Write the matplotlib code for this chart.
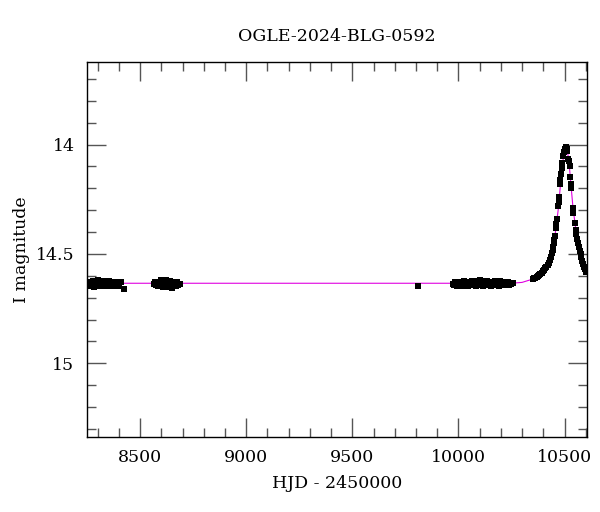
"""Light curve of OGLE-2024-BLG-0592."""

import matplotlib
matplotlib.use("Agg")
import matplotlib.pyplot as plt
from matplotlib.ticker import MultipleLocator

# observations, season by season (HJD - 2450000, I mag)
hjd_s1 = [8256, 8260, 8264, 8268, 8272, 8276, 8280, 8284, 8288, 8292, 8296, 8300,
          8304, 8308, 8312, 8316, 8320, 8324, 8328, 8332, 8336, 8340, 8344, 8348,
          8352, 8356, 8360, 8364, 8368, 8372, 8378, 8384, 8390, 8396, 8402, 8408, 8425]
mag_s1 = [14.640, 14.626, 14.648, 14.630, 14.644, 14.624, 14.638, 14.650, 14.628, 14.642,
          14.634, 14.620, 14.648, 14.630, 14.642, 14.626, 14.648, 14.636, 14.622, 14.644,
          14.630, 14.648, 14.626, 14.640, 14.623, 14.646, 14.630, 14.642, 14.626, 14.648,
          14.636, 14.626, 14.644, 14.632, 14.648, 14.630, 14.662]

hjd_s2 = [8567, 8571, 8575, 8580, 8585, 8590, 8595, 8600, 8605, 8610, 8615, 8620,
          8625, 8630, 8635, 8640, 8645, 8650, 8655, 8660, 8665, 8670, 8675, 8680,
          8686, 8598, 8628, 8652, 8642, 8612]
mag_s2 = [14.636, 14.626, 14.644, 14.630, 14.648, 14.628, 14.642, 14.622, 14.638, 14.650,
          14.630, 14.620, 14.644, 14.652, 14.628, 14.646, 14.632, 14.648, 14.626, 14.644,
          14.634, 14.648, 14.628, 14.642, 14.636, 14.618, 14.650, 14.656, 14.622, 14.652]

hjd_s3 = [9808]
mag_s3 = [14.645]

hjd_s4 = [9975, 9980, 9986, 9992, 9998, 10004, 10010, 10016, 10022, 10028, 10034, 10040,
          10046, 10052, 10058, 10064, 10070, 10076, 10082, 10088, 10094, 10100, 10106,
          10112, 10118, 10124, 10130, 10136, 10142, 10148, 10154, 10160, 10166, 10172,
          10178, 10184, 10190, 10196, 10202, 10208, 10214, 10220, 10226, 10232, 10238,
          10244, 10250, 10255]
mag_s4 = [14.636, 14.644, 14.628, 14.647, 14.634, 14.642, 14.626, 14.646, 14.634, 14.624,
          14.642, 14.630, 14.647, 14.626, 14.638, 14.622, 14.642, 14.630, 14.646, 14.624,
          14.636, 14.620, 14.642, 14.628, 14.646, 14.624, 14.636, 14.622, 14.642, 14.628,
          14.646, 14.626, 14.638, 14.622, 14.642, 14.628, 14.645, 14.625, 14.638, 14.628,
          14.644, 14.626, 14.636, 14.628, 14.640, 14.632, 14.636, 14.634]

hjd_s5 = [10350, 10356, 10362, 10368, 10374, 10380, 10386, 10392, 10398, 10404, 10410,
          10415, 10420, 10425, 10430, 10435, 10440, 10444, 10447, 10450, 10452, 10455,
          10460, 10462, 10464, 10470, 10472, 10474, 10479, 10481, 10484, 10487, 10490,
          10495, 10498, 10502, 10505, 10508, 10511, 10514,
          10518, 10521, 10524, 10528, 10530, 10532, 10538, 10540, 10548, 10552, 10556,
          10560, 10564, 10568, 10572, 10576, 10580, 10584, 10588, 10592, 10596, 10601]
mag_s5 = [14.615, 14.612, 14.608, 14.604, 14.600, 14.596, 14.592, 14.586, 14.580, 14.574, 14.566,
          14.560, 14.552, 14.542, 14.528, 14.512, 14.496, 14.482, 14.466, 14.450, 14.436, 14.420,
          14.382, 14.362, 14.342, 14.280, 14.262, 14.240, 14.182, 14.162, 14.135, 14.105, 14.082,
          14.052, 14.032, 14.020, 14.012, 14.010, 14.018, 14.030,
          14.068, 14.074, 14.100, 14.150, 14.180, 14.200, 14.290, 14.312, 14.360, 14.390, 14.410,
          14.430, 14.450, 14.470, 14.485, 14.500, 14.515, 14.530, 14.545, 14.558, 14.570, 14.582]

# model light curve
hjd_model = [8250, 10250, 10300, 10350, 10400, 10430, 10450, 10470, 10485, 10495,
             10502, 10508, 10514, 10522, 10530, 10540, 10555, 10570, 10590, 10605]
mag_model = [14.634, 14.634, 14.630, 14.615, 14.585, 14.535, 14.455, 14.300, 14.140, 14.055,
             14.020, 14.010, 14.030, 14.090, 14.180, 14.290, 14.400, 14.480, 14.550, 14.585]

plt.rcParams['font.family'] = ['DejaVu Serif']

fig = plt.figure(figsize=(6, 5.12), dpi=100)
ax = fig.add_axes([0.145, 0.1465, 0.833, 0.7325])

ax.plot(hjd_model, mag_model, color='#e000e0', lw=0.8, zorder=1)
for t, m in [(hjd_s1, mag_s1), (hjd_s2, mag_s2), (hjd_s3, mag_s3),
             (hjd_s4, mag_s4), (hjd_s5, mag_s5)]:
    ax.plot(t, m, 's', color='black', ms=4.3, mew=0, zorder=2)

ax.set_xlim(8250, 10605)
ax.set_ylim(15.337, 13.622)

ax.xaxis.set_major_locator(MultipleLocator(500))
ax.xaxis.set_minor_locator(MultipleLocator(100))
ax.yaxis.set_major_locator(MultipleLocator(0.5))
ax.yaxis.set_minor_locator(MultipleLocator(0.1))
ax.yaxis.set_major_formatter(plt.FuncFormatter(lambda v, p: f"{v:g}"))

ax.tick_params(which='both', direction='in', top=True, right=True,
               color='#555555', width=1.0, labelsize=12.5)
ax.tick_params(which='major', length=13.5, pad=9)
ax.tick_params(which='minor', length=6.8)
for s in ax.spines.values():
    s.set_linewidth(1.0)

ax.set_xlabel("HJD - 2450000", fontsize=12.5, labelpad=6)
ax.set_ylabel("I magnitude", fontsize=12.5, labelpad=4)
ax.set_title("OGLE-2024-BLG-0592", fontsize=12.5, pad=15)

fig.savefig("out.png", dpi=100)
